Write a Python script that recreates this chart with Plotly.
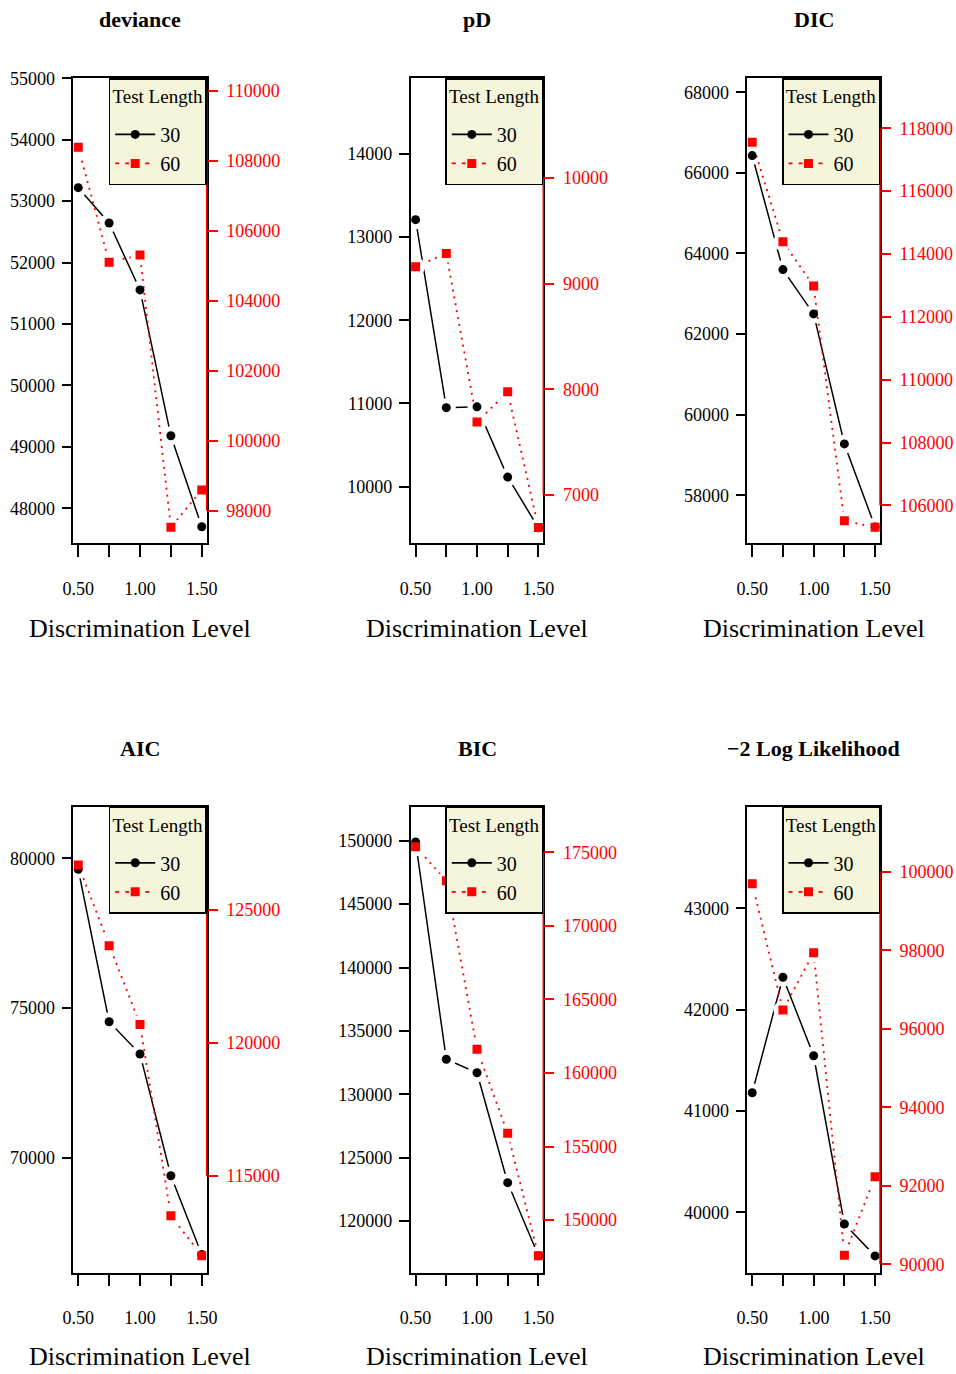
import plotly.graph_objects as go

# ---------------- data ----------------
disc_levels = [0.5, 0.75, 1.0, 1.25, 1.5]
disc_ticktext = ["0.50", "", "1.00", "", "1.50"]
legend_names = ["30", "60"]

deviance_30 = [53220, 52645, 51555, 49180, 47700]
deviance_60 = [108390, 105100, 105310, 97525, 98590]
pD_30 = [13210, 10950, 10960, 10115, 9505]
pD_60 = [9160, 9285, 7690, 7975, 6690]
DIC_30 = [66430, 63600, 62500, 59275, 57215]
DIC_60 = [117555, 114390, 112980, 105510, 105300]
AIC_30 = [79630, 74540, 73460, 69395, 66760]
AIC_60 = [126690, 123660, 120700, 113510, 112005]
BIC_30 = [149900, 132760, 131700, 123030, 117270]
BIC_60 = [175380, 173070, 161610, 155900, 147575]
LL_30 = [41180, 42320, 41545, 39885, 39570]
LL_60 = [99695, 96475, 97935, 90230, 92230]

panel_titles = ["deviance", "pD", "DIC", "AIC", "BIC", "\u22122 Log Likelihood"]

deviance_left_ticks = [48000, 49000, 50000, 51000, 52000, 53000, 54000, 55000]
deviance_right_ticks = [98000, 100000, 102000, 104000, 106000, 108000, 110000]
pD_left_ticks = [10000, 11000, 12000, 13000, 14000]
pD_right_ticks = [7000, 8000, 9000, 10000]
DIC_left_ticks = [58000, 60000, 62000, 64000, 66000, 68000]
DIC_right_ticks = [106000, 108000, 110000, 112000, 114000, 116000, 118000]
AIC_left_ticks = [70000, 75000, 80000]
AIC_right_ticks = [115000, 120000, 125000]
BIC_left_ticks = [120000, 125000, 130000, 135000, 140000, 145000, 150000]
BIC_right_ticks = [150000, 155000, 160000, 165000, 170000, 175000]
LL_left_ticks = [40000, 41000, 42000, 43000]
LL_right_ticks = [90000, 92000, 94000, 96000, 98000, 100000]

# ---------------- layout helpers ----------------
W, H = 956, 1374
FONT = "Liberation Serif, Times New Roman, serif"
RED = "#FF0000"
col_px = [(73.3, 206.7), (410.7, 543.3), (747.3, 880.0)]
row_px = [(78.3, 543.3), (806.7, 1272.7)]
x_range = [0.46, 1.54]
left_ranges = [[47430, 55000], [9319, 14910], [56809, 68347],
               [66154, 81724], [115931, 152681], [39404, 44003]]
right_ranges = [[97066, 110363], [6541, 10944], [104792, 119591],
                [111365, 128883], [146421, 178100], [89786, 101656]]


def px_x(v):
    return v / W


def px_y(v):
    return 1 - v / H


panels = [
    (deviance_30, deviance_60, deviance_left_ticks, deviance_right_ticks),
    (pD_30, pD_60, pD_left_ticks, pD_right_ticks),
    (DIC_30, DIC_60, DIC_left_ticks, DIC_right_ticks),
    (AIC_30, AIC_60, AIC_left_ticks, AIC_right_ticks),
    (BIC_30, BIC_60, BIC_left_ticks, BIC_right_ticks),
    (LL_30, LL_60, LL_left_ticks, LL_right_ticks),
]


def axname(kind, n):
    return f"{kind}axis" if n == 1 else f"{kind}axis{n}"


def axref(kind, n):
    return kind if n == 1 else f"{kind}{n}"


fig = go.Figure()
layout = dict(
    width=W, height=H, autosize=False,
    margin=dict(l=0, r=0, t=0, b=0, pad=0),
    paper_bgcolor="white", plot_bgcolor="white",
    font=dict(family=FONT, color="black"),
    showlegend=True,
    annotations=[], shapes=[],
)

GAP = 19  # white disc diameter giving R "type=b" gaps

for i, (s30, s60, lt, rt) in enumerate(panels):
    r, c = divmod(i, 3)
    n = i + 1
    xr = axref("x", n)
    ym, yr, yb, yq = (axref("y", 4 * i + k) for k in (1, 2, 3, 4))
    leg = "legend" if n == 1 else f"legend{n}"
    c0, c1 = col_px[c]
    r0, r1 = row_px[r]

    # black series: line + gaps (main layer)
    fig.add_trace(go.Scatter(x=disc_levels, y=s30, mode="lines", xaxis=xr, yaxis=ym,
                             line=dict(color="black", width=1.5), showlegend=False, hoverinfo="skip"))
    fig.add_trace(go.Scatter(x=disc_levels, y=s30, mode="markers", xaxis=xr, yaxis=ym,
                             marker=dict(color="white", size=GAP, symbol="circle"),
                             showlegend=False, hoverinfo="skip"))
    # red series: dotted line + gaps
    fig.add_trace(go.Scatter(x=disc_levels, y=s60, mode="lines", xaxis=xr, yaxis=yr,
                             line=dict(color=RED, width=1.8, dash="2px,5px"),
                             showlegend=False, hoverinfo="skip"))
    fig.add_trace(go.Scatter(x=disc_levels, y=s60, mode="markers", xaxis=xr, yaxis=yr,
                             marker=dict(color="white", size=GAP, symbol="circle"),
                             showlegend=False, hoverinfo="skip"))
    # point markers on top
    fig.add_trace(go.Scatter(x=disc_levels, y=s30, mode="markers", xaxis=xr, yaxis=yb,
                             marker=dict(color="black", size=9, symbol="circle"),
                             showlegend=False, name=legend_names[0]))
    fig.add_trace(go.Scatter(x=disc_levels, y=s60, mode="markers", xaxis=xr, yaxis=yq,
                             marker=dict(color=RED, size=9, symbol="square"),
                             showlegend=False, name=legend_names[1]))
    # legend entries
    fig.add_trace(go.Scatter(x=[None], y=[None], mode="lines+markers", xaxis=xr, yaxis=ym,
                             line=dict(color="black", width=1.8),
                             marker=dict(color="black", size=9, symbol="circle"),
                             name=legend_names[0], legend=leg, showlegend=True))
    fig.add_trace(go.Scatter(x=[None], y=[None], mode="lines+markers", xaxis=xr, yaxis=ym,
                             line=dict(color=RED, width=1.8, dash="4px,6px"),
                             marker=dict(color=RED, size=9, symbol="square"),
                             name=legend_names[1], legend=leg, showlegend=True))

    layout[axname("x", n)] = dict(
        domain=[px_x(c0), px_x(c1)], anchor=ym, range=x_range, automargin=False,
        tickmode="array", tickvals=disc_levels, ticktext=disc_ticktext,
        ticks="outside", ticklen=12, tickwidth=1.5, tickcolor="black",
        showline=True, linecolor="black", linewidth=1.5, mirror=True,
        showgrid=False, zeroline=False, ticklabelstandoff=16,
        tickfont=dict(family=FONT, size=18, color="black"),
    )
    layout[axname("y", 4 * i + 1)] = dict(
        domain=[px_y(r1), px_y(r0)], anchor=xr, range=left_ranges[i], automargin=False,
        tickmode="array", tickvals=lt, ticktext=[str(v) for v in lt],
        ticks="outside", ticklen=10, tickwidth=1.5, tickcolor="black",
        showline=True, linecolor="black", linewidth=1.5, mirror=True,
        showgrid=False, zeroline=False, ticklabelstandoff=3,
        tickfont=dict(family=FONT, size=18, color="black"),
    )
    layout[axname("y", 4 * i + 2)] = dict(
        overlaying=ym, side="right", anchor=xr, range=right_ranges[i], automargin=False,
        tickmode="array", tickvals=rt, ticktext=[str(v) for v in rt],
        ticks="outside", ticklen=10, tickwidth=1.5, tickcolor=RED,
        showline=False, showgrid=False, zeroline=False, ticklabelstandoff=5,
        tickfont=dict(family=FONT, size=18, color=RED),
    )
    layout[axname("y", 4 * i + 3)] = dict(overlaying=ym, anchor=xr, range=left_ranges[i],
                                          visible=False, automargin=False)
    layout[axname("y", 4 * i + 4)] = dict(overlaying=ym, anchor=xr, range=right_ranges[i],
                                          visible=False, automargin=False)

    # red right axis line (from first to last tick)
    layout["shapes"].append(dict(type="line", xref="paper", yref=yr,
                                 x0=px_x(c1), x1=px_x(c1), y0=rt[0], y1=rt[-1],
                                 line=dict(color=RED, width=1.5), layer="above"))

    layout[leg] = dict(
        x=px_x(c1), xanchor="right", y=px_y(r0), yanchor="top",
        bgcolor="#F5F5DC", bordercolor="black", borderwidth=1.5,
        font=dict(family=FONT, size=20, color="black"),
        title=dict(text="&nbsp;<br><span style='font-size:19px'>Test Length</span><br>&nbsp;",
                   side="top center",
                   font=dict(family=FONT, size=9, color="black")),
        itemwidth=40, tracegroupgap=0,
    )

    cx = (c0 + c1) / 2
    layout["annotations"].append(dict(
        x=px_x(cx), y=px_y(20 + r * 728.5), xref="paper", yref="paper",
        text=f"<b>{panel_titles[i]}</b>", showarrow=False, xanchor="center", yanchor="middle",
        font=dict(family=FONT, size=22, color="black")))
    layout["annotations"].append(dict(
        x=px_x(cx), y=px_y(628 + r * 728.5), xref="paper", yref="paper",
        text="Discrimination Level", showarrow=False, xanchor="center", yanchor="middle",
        font=dict(family=FONT, size=26, color="black")))

fig.update_layout(**layout)
fig.write_html("out.html", config={"responsive": False})
